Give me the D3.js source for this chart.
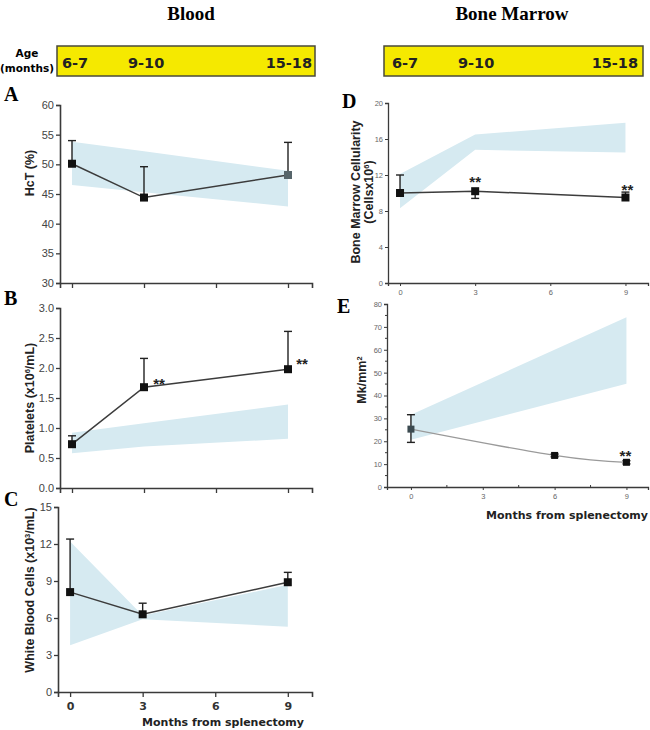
<!DOCTYPE html>
<html><head><meta charset="utf-8">
<script src="https://cdn.jsdelivr.net/npm/d3@7"></script>
<style>body{margin:0;background:#fff}svg{display:block}</style>
</head><body>
<svg id="c" width="650" height="730"></svg>
<script>
// ---------- data ----------
const months = [0, 3, 9];
const xTicks = [0, 3, 6, 9];
const ageLabels = ["6-7", "9-10", "15-18"];

const hct = [50.1, 44.4, 48.2];
const hctErrHigh = [54.0, 49.6, 53.7];
const hctBandLow = [46.5, 45.3, 42.9];
const hctBandHigh = [53.8, 52.2, 48.9];

const platelets = [0.73, 1.68, 1.98];
const pltErrHigh = [0.87, 2.16, 2.61];
const pltBandLow = [0.58, 0.69, 0.82];
const pltBandHigh = [0.92, 1.08, 1.39];

const wbc = [8.1, 6.3, 8.9];
const wbcErrHigh = [12.4, 7.2, 9.7];
const wbcBandLow = [3.8, 5.9, 5.3];
const wbcBandHigh = [12.2, 6.2, 8.7];

const bmc = [10.0, 10.2, 9.5];
const bmcErrHigh = [12.0, 10.2, 10.1];
const bmcErrLow = [10.0, 9.4, 9.5];
const bmcBandLow = [8.3, 14.8, 14.5];
const bmcBandHigh = [12.1, 16.5, 17.8];

const mkMonths = [0, 6, 9];
const mk = [25.3, 13.8, 10.8];
const mkErrHigh = [31.6, 14.4, 11.5];
const mkErrLow = [19.5, 13.2, 10.1];
const mkBandMonths = [0, 9];
const mkBandLow = [20.7, 45.1];
const mkBandHigh = [31.6, 74.2];

// ---------- drawing ----------
const svg = d3.select("#c");
const BAND = "#d6eaf1";
const AX = "#3a3a3a";

// titles
svg.append("text").attr("x", 191).attr("y", 20).attr("text-anchor", "middle")
  .attr("font-family", "Liberation Serif").attr("font-weight", "bold").attr("font-size", 19).text("Blood");
svg.append("text").attr("x", 512).attr("y", 20).attr("text-anchor", "middle")
  .attr("font-family", "Liberation Serif").attr("font-weight", "bold").attr("font-size", 19).text("Bone Marrow");

// age bars
function ageBar(x0, x1, xPos) {
  svg.append("rect").attr("x", x0).attr("y", 46).attr("width", x1 - x0).attr("height", 30)
    .attr("fill", "#f5e900").attr("stroke", "#4a4a3a").attr("stroke-width", 1.5);
  ageLabels.forEach((t, i) => {
    svg.append("text").attr("x", xPos[i]).attr("y", 68)
      .attr("text-anchor", i === 2 ? "end" : "start")
      .attr("font-family", "DejaVu Sans").attr("font-weight", "bold").attr("font-size", 14.5)
      .attr("fill", "#222").text(t);
  });
}
ageBar(57, 315, [62, 128, 312]);
ageBar(384, 643, [392, 458, 638]);
svg.append("text").attr("x", 27).attr("y", 57).attr("text-anchor", "middle")
  .attr("font-family", "DejaVu Sans").attr("font-weight", "bold").attr("font-size", 10.5).text("Age");
svg.append("text").attr("x", 27).attr("y", 72).attr("text-anchor", "middle")
  .attr("font-family", "DejaVu Sans").attr("font-weight", "bold").attr("font-size", 10.5).text("(months)");

function letter(t, x, y) {
  svg.append("text").attr("x", x).attr("y", y).attr("font-family", "Liberation Serif")
    .attr("font-weight", "bold").attr("font-size", 20).text(t);
}
letter("A", 4, 101); letter("B", 4, 305); letter("C", 4, 506);
letter("D", 342, 108); letter("E", 337, 313);

function panel(o) {
  const g = svg.append("g");
  const x = d3.scaleLinear().domain(o.xDomain).range(o.xRange);
  const y = d3.scaleLinear().domain(o.yDomain).range(o.yRange);
  const small = o.small;
  // band
  const bandData = o.bandX.map((m, i) => ({ m, lo: o.bandLow[i], hi: o.bandHigh[i] }));
  g.append("path").datum(bandData)
    .attr("d", d3.area().x(d => x(d.m)).y0(d => y(d.lo)).y1(d => y(d.hi)))
    .attr("fill", BAND);
  // axes
  const yAxis = d3.axisLeft(y).tickValues(o.yTicks).tickSize(small ? 3 : 4)
    .tickFormat(o.yFormat || d3.format("d")).tickPadding(2);
  const ya = g.append("g").attr("transform", `translate(${o.xRange[0]},0)`).call(yAxis);
  const xAxis = d3.axisBottom(x).tickValues(xTicks).tickSize(small ? 3 : 5)
    .tickFormat(o.xLabels ? d3.format("d") : "").tickPadding(small ? 4 : 5);
  const xa = g.append("g").attr("transform", `translate(0,${o.yRange[0]})`).call(xAxis);
  [ya, xa].forEach(a => {
    a.select(".domain").attr("stroke", AX).attr("stroke-width", small ? 1.3 : 1.6);
    a.selectAll(".tick line").attr("stroke", AX).attr("stroke-width", small ? 1 : 1.3);
    a.selectAll("text").attr("font-family", "Liberation Sans")
      .attr("font-size", small ? 7.5 : 11).attr("fill", small ? "#666" : "#444");
  });
  if (o.xBold) xa.selectAll("text").attr("font-family", "DejaVu Sans").attr("font-weight", "bold")
    .attr("font-size", 11).attr("fill", "#333");
  if (o.yMinor) {
    o.yMinor.forEach(v => g.append("line").attr("x1", o.xRange[0] - 2).attr("x2", o.xRange[0])
      .attr("y1", y(v)).attr("y2", y(v)).attr("stroke", AX).attr("stroke-width", 1));
  }
  if (o.xMinor) {
    o.xMinor.forEach(v => g.append("line").attr("x1", x(v)).attr("x2", x(v))
      .attr("y1", o.yRange[0]).attr("y2", o.yRange[0] - 2).attr("stroke", AX).attr("stroke-width", 1));
  }
  // line
  const pts = o.px.map((m, i) => ({ m, v: o.val[i] }));
  g.append("path").datum(pts)
    .attr("d", d3.line().x(d => x(d.m)).y(d => y(d.v)).curve(o.curve || d3.curveLinear))
    .attr("fill", "none").attr("stroke", o.lineColor || "#3c3c3c").attr("stroke-width", o.lineWidth || 1.5);
  // error bars
  o.px.forEach((m, i) => {
    const hi = o.errHigh ? o.errHigh[i] : o.val[i];
    const lo = o.errLow ? o.errLow[i] : o.val[i];
    const cx = x(m);
    g.append("line").attr("x1", cx).attr("x2", cx).attr("y1", y(lo)).attr("y2", y(hi))
      .attr("stroke", "#222").attr("stroke-width", 1.4);
    if (hi > o.val[i]) g.append("line").attr("x1", cx - 4).attr("x2", cx + 4).attr("y1", y(hi)).attr("y2", y(hi))
      .attr("stroke", "#222").attr("stroke-width", 1.4);
    if (lo < o.val[i]) g.append("line").attr("x1", cx - 4).attr("x2", cx + 4).attr("y1", y(lo)).attr("y2", y(lo))
      .attr("stroke", "#222").attr("stroke-width", 1.4);
  });
  // markers
  o.px.forEach((m, i) => {
    const s = o.markerSize || 8;
    g.append("rect").attr("x", x(m) - s / 2).attr("y", y(o.val[i]) - s / 2)
      .attr("width", s).attr("height", s)
      .attr("fill", (o.markerColors && o.markerColors[i]) || "#111");
  });
  // significance
  (o.stars || []).forEach(s => {
    g.append("text").attr("x", x(s.m) + s.dx).attr("y", y(s.v) + s.dy)
      .attr("text-anchor", "middle").attr("font-family", "Liberation Sans").attr("font-weight", "bold")
      .attr("font-size", 15).attr("fill", "#222").text("**");
  });
  // y label
  o.yLabel.forEach((t, i) => {
    const lx = o.yLabelX + i * 12.5;
    const ly = o.yLabelY;
    const tx = g.append("text").attr("transform", `translate(${lx},${ly}) rotate(-90)`)
      .attr("text-anchor", "middle").attr("font-family", "Liberation Sans").attr("font-weight", "bold")
      .attr("font-size", o.yLabelSize || 12.5).attr("fill", "#222");
    t.forEach(part => {
      const ts = tx.append("tspan").text(part.t);
      if (part.sup) ts.attr("font-size", 7.5).attr("dy", -4);
      else if (part.after) ts.attr("dy", 4);
    });
  });
  return { x, y };
}

// A
panel({
  xDomain: [-0.5, 10], xRange: [60, 312], yDomain: [30, 60], yRange: [283, 105],
  yTicks: [30, 35, 40, 45, 50, 55, 60],
  bandX: months, bandLow: hctBandLow, bandHigh: hctBandHigh,
  px: months, val: hct, errHigh: hctErrHigh,
  markerColors: ["#111", "#111", "#56656a"],
  yLabel: [[{ t: "HcT (%)" }]], yLabelX: 34, yLabelY: 173
});
// B
panel({
  xDomain: [-0.5, 10], xRange: [60, 312], yDomain: [0, 3], yRange: [488, 308],
  yTicks: [0, 0.5, 1, 1.5, 2, 2.5, 3], yFormat: d3.format(".1f"),
  bandX: months, bandLow: pltBandLow, bandHigh: pltBandHigh,
  px: months, val: platelets, errHigh: pltErrHigh,
  stars: [{ m: 3, v: 1.68, dx: 15, dy: 2 }, { m: 9, v: 1.98, dx: 14, dy: 0 }],
  yLabel: [[{ t: "Platelets (x10" }, { t: "6", sup: true }, { t: "/mL)", after: true }]], yLabelX: 34, yLabelY: 398
});
// C
panel({
  xDomain: [-0.5, 10], xRange: [58, 312], yDomain: [0, 15], yRange: [692, 507],
  yTicks: [0, 3, 6, 9, 12, 15], xLabels: true, xBold: true,
  bandX: months, bandLow: wbcBandLow, bandHigh: wbcBandHigh,
  px: months, val: wbc, errHigh: wbcErrHigh,
  yLabel: [[{ t: "White Blood Cells (x10" }, { t: "3", sup: true }, { t: "/mL)", after: true }]], yLabelX: 34, yLabelY: 590
});
svg.append("text").attr("x", 223).attr("y", 726).attr("text-anchor", "middle")
  .attr("font-family", "DejaVu Sans").attr("font-weight", "bold").attr("font-size", 11)
  .attr("fill", "#222").text("Months from splenectomy");
// D
panel({
  small: true,
  xDomain: [-0.48, 9.9], xRange: [388, 648], yDomain: [0, 20], yRange: [283, 103],
  yTicks: [0, 4, 8, 12, 16, 20], xLabels: true,
  bandX: months, bandLow: bmcBandLow, bandHigh: bmcBandHigh,
  px: months, val: bmc, errHigh: bmcErrHigh, errLow: bmcErrLow,
  stars: [{ m: 3, v: 10.2, dx: 0, dy: -4 }, { m: 9, v: 9.5, dx: 2, dy: -3 }],
  yLabel: [[{ t: "Bone Marrow Cellularity" }], [{ t: "(Cellsx10" }, { t: "6", sup: true }, { t: ")", after: true }]],
  yLabelX: 360, yLabelY: 192, yLabelSize: 12.5
});
// E
panel({
  small: true,
  xDomain: [-1, 9.9], xRange: [387, 648], yDomain: [0, 80], yRange: [487, 304],
  yTicks: [0, 10, 20, 30, 40, 50, 60, 70, 80], xLabels: true,
  yMinor: [5, 15, 25, 35, 45, 55, 65, 75], xMinor: [1.5, 4.5, 7.5],
  bandX: mkBandMonths, bandLow: mkBandLow, bandHigh: mkBandHigh,
  px: mkMonths, val: mk, errHigh: mkErrHigh, errLow: mkErrLow,
  curve: d3.curveNatural, lineColor: "#9a9a9a", lineWidth: 1.3, markerSize: 7,
  markerColors: ["#3b4a50", "#111", "#111"],
  stars: [{ m: 9, v: 10.8, dx: -1, dy: -1 }],
  yLabel: [[{ t: "Mk/mm" }, { t: "2", sup: true }, { t: "", after: true }]], yLabelX: 366, yLabelY: 380, yLabelSize: 12.5
});
svg.append("text").attr("x", 567).attr("y", 519).attr("text-anchor", "middle")
  .attr("font-family", "DejaVu Sans").attr("font-weight", "bold").attr("font-size", 11)
  .attr("fill", "#222").text("Months from splenectomy");
</script>
</body></html>
